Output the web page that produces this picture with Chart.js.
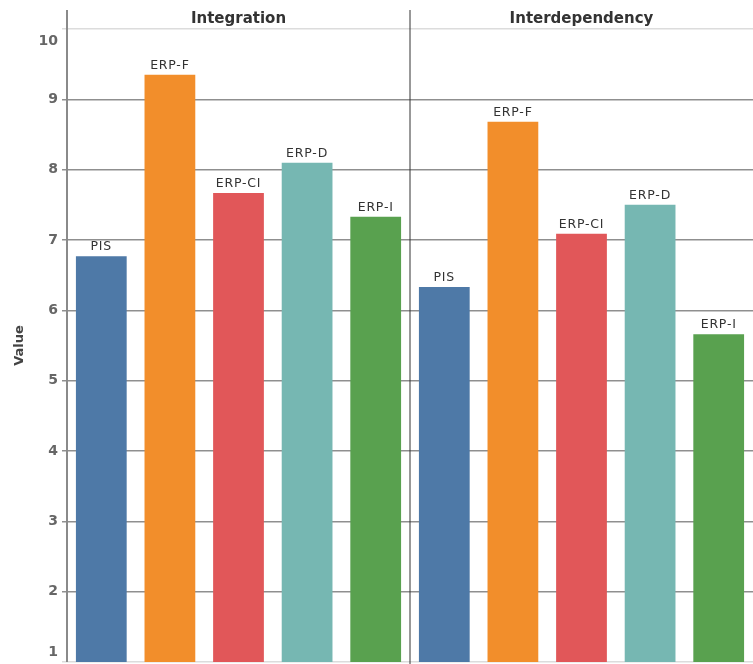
<!DOCTYPE html>
<html>
<head>
<meta charset="utf-8">
<script src="https://cdn.jsdelivr.net/npm/chart.js@4"></script>
<style>
  html, body { margin: 0; padding: 0; background: #fff; }
  #wrap { width: 753px; height: 664px; }
</style>
</head>
<body>
<div id="wrap"><canvas id="chart"></canvas></div>
<script>
// Values
const panels = ['Integration', 'Interdependency'];
const systems = ['PIS', 'ERP-F', 'ERP-CI', 'ERP-D', 'ERP-I'];
const integrationValues = [6.77, 9.35, 7.67, 8.10, 7.33];
const interdependencyValues = [6.33, 8.68, 7.09, 7.50, 5.66];
const systemColors = ['#4e79a7', '#f28e2b', '#e15759', '#76b7b2', '#59a14f'];
const yMin = 1;
const yMax = 10;
const yTitle = 'Value';

const labels = systems.concat(systems);
const values = integrationValues.concat(interdependencyValues);
const colors = systemColors.concat(systemColors);

const FONT = "'DejaVu Sans', 'Noto Sans', sans-serif";

// headers, panel divider, tick labels, axis title and bar labels
const panelPlugin = {
    id: 'panelPlugin',
    afterDatasetsDraw(chart) {
        const ctx = chart.ctx;
        const area = chart.chartArea;
        const x = chart.scales.x;
        const y = chart.scales.y;
        const perPanel = systems.length;
        ctx.save();

        // left axis line and divider reach up into the header row
        ctx.strokeStyle = '#8a8a8a';
        ctx.lineWidth = 2;
        ctx.beginPath();
        ctx.moveTo(area.left, area.top - 19);
        ctx.lineTo(area.left, area.bottom);
        ctx.stroke();

        const split = (x.getPixelForValue(perPanel - 1) + x.getPixelForValue(perPanel)) / 2;
        ctx.strokeStyle = '#333';
        ctx.lineWidth = 1;
        ctx.beginPath();
        ctx.moveTo(split, area.top - 19);
        ctx.lineTo(split, chart.height);
        ctx.stroke();

        // panel headers
        ctx.fillStyle = '#333';
        ctx.font = 'bold 15px ' + FONT;
        ctx.textAlign = 'center';
        ctx.textBaseline = 'middle';
        ctx.fillText(panels[0], (area.left + split) / 2, area.top - 10);
        ctx.fillText(panels[1], (split + area.right) / 2, area.top - 10);

        // y tick labels, kept inside the plot at the ends
        ctx.fillStyle = '#666';
        ctx.font = 'bold 14px ' + FONT;
        ctx.textAlign = 'right';
        y.ticks.forEach(t => {
            let py = y.getPixelForValue(t.value);
            py = Math.max(area.top + 12, Math.min(area.bottom - 10, py));
            ctx.fillText(String(t.value), area.left - 9, py);
        });

        // axis title
        ctx.save();
        ctx.translate(20, (area.top + area.bottom) / 2);
        ctx.rotate(-Math.PI / 2);
        ctx.fillStyle = '#444';
        ctx.font = 'bold 13px ' + FONT;
        ctx.textAlign = 'center';
        ctx.fillText(yTitle, 0, 0);
        ctx.restore();

        // bar labels
        ctx.fillStyle = '#333';
        ctx.font = '12.5px ' + FONT;
        ctx.letterSpacing = '0.8px';
        ctx.textAlign = 'center';
        ctx.textBaseline = 'bottom';
        chart.getDatasetMeta(0).data.forEach((bar, i) => {
            ctx.fillText(labels[i], bar.x, bar.y - 3);
        });
        ctx.restore();
    }
};

new Chart(document.getElementById('chart'), {
    type: 'bar',
    data: {
        labels: labels,
        datasets: [{
            label: yTitle,
            data: values,
            backgroundColor: colors,
            borderWidth: 0,
            barPercentage: 0.74,
            categoryPercentage: 1.0
        }]
    },
    options: {
        responsive: true,
        maintainAspectRatio: false,
        animation: false,
        layout: { padding: { top: 29, bottom: 2, left: 0, right: 0 } },
        plugins: {
            legend: { display: false },
            tooltip: { enabled: false }
        },
        scales: {
            x: {
                display: false
            },
            y: {
                min: yMin,
                max: yMax,
                afterFit(scale) { scale.width = 67; },
                ticks: {
                    stepSize: 1,
                    display: false
                },
                grid: {
                    color: c => (c.tick && (c.tick.value === yMin || c.tick.value === yMax)) ? '#dcdcdc' : '#8f8f8f',
                    lineWidth: 1.5,
                    drawTicks: true,
                    tickLength: 5
                },
                border: { display: false }
            }
        }
    },
    plugins: [panelPlugin]
});
</script>
</body>
</html>
